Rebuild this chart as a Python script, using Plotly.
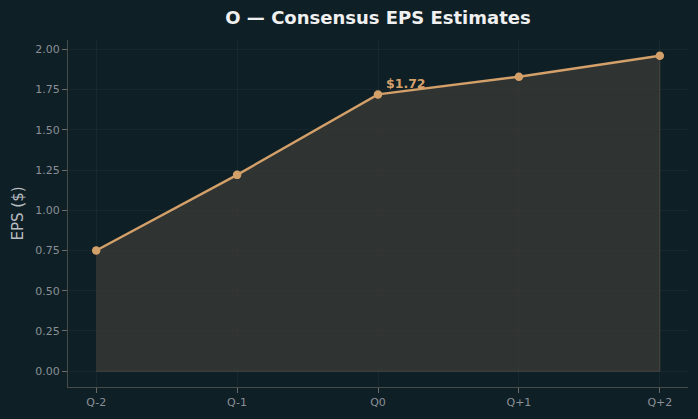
import plotly.graph_objects as go

quarters = ["Q-2", "Q-1", "Q0", "Q+1", "Q+2"]
eps = [0.75, 1.22, 1.72, 1.83, 1.96]
highlight_idx = 2
y_ticks = [0.0, 0.25, 0.5, 0.75, 1.0, 1.25, 1.5, 1.75, 2.0]

BG = "#0f1f26"
LINE = "#d4a06a"
xs = list(range(len(quarters)))

fig = go.Figure()
fig.add_trace(go.Scatter(
    x=xs + xs[::-1], y=eps + [0] * len(eps), fill="toself",
    fillcolor="rgba(64,60,54,0.68)", mode="lines",
    line=dict(color="rgba(110,100,85,0.45)", width=1), hoverinfo="skip", showlegend=False))
fig.add_trace(go.Scatter(
    x=xs, y=eps, mode="lines+markers",
    line=dict(color=LINE, width=2.4), marker=dict(color=LINE, size=8.5),
    showlegend=False))
fig.add_annotation(
    x=xs[highlight_idx], y=eps[highlight_idx], text=f"<b>${eps[highlight_idx]:.2f}</b>",
    showarrow=False, xanchor="left", yanchor="bottom", xshift=6, yshift=1,
    font=dict(color=LINE, size=12.5, family="DejaVu Sans"))

fig.update_layout(
    width=698, height=419, paper_bgcolor=BG, plot_bgcolor=BG,
    margin=dict(l=68, r=10, t=40, b=32),
    font=dict(family="DejaVu Sans", color="#8a9096", size=11),
    title=dict(text="<b>O — Consensus EPS Estimates</b>", x=0.5, xref="paper", xanchor="center",
               y=0.957, yanchor="middle", font=dict(size=18, color="#f0f0f0")),
)
fig.update_xaxes(
    range=[-0.2, 4.2], tickvals=xs, ticktext=quarters, showgrid=True,
    gridcolor="rgba(255,255,255,0.04)", showline=True, linecolor="#4a4a48",
    ticks="outside", ticklen=5, tickcolor="#6a6a68", zeroline=False,
    tickfont=dict(size=11, color="#8a9096"))
fig.update_yaxes(
    range=[-0.098, 2.058], tickvals=y_ticks, ticktext=[f"{v:.2f}" for v in y_ticks],
    showgrid=True, gridcolor="rgba(255,255,255,0.04)", showline=True, linecolor="#4a4a48",
    ticks="outside", ticklen=5, tickcolor="#6a6a68", zeroline=False,
    title=dict(text="EPS ($)", font=dict(size=15, color="#b8bcc0"), standoff=8),
    tickfont=dict(size=11, color="#8a9096"))

fig.write_html("out.html")
